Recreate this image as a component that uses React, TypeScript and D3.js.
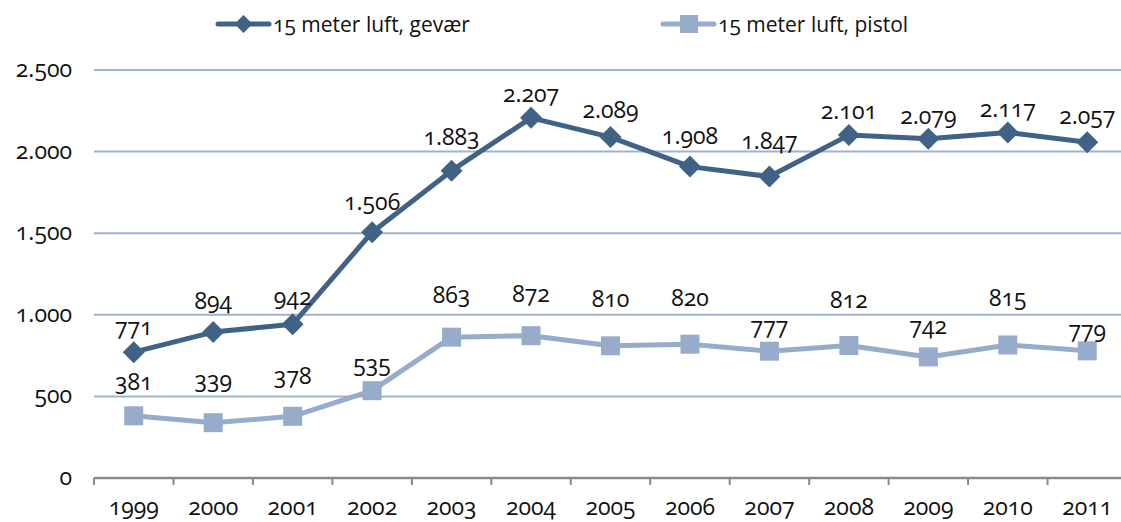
import React, { useEffect, useRef } from 'react';
import * as d3 from 'd3';

const years = ['1999', '2000', '2001', '2002', '2003', '2004', '2005', '2006', '2007', '2008', '2009', '2010', '2011'];
const gevaer = [771, 894, 942, 1506, 1883, 2207, 2089, 1908, 1847, 2101, 2079, 2117, 2057];
const pistol = [381, 339, 378, 535, 863, 872, 810, 820, 777, 812, 742, 815, 779];
const yTicks = [0, 500, 1000, 1500, 2000, 2500];
const seriesNames = ['15 meter luft, gevær', '15 meter luft, pistol'];

// manuelle forskydninger af datalabels (px over punktet)
const gevaerLabelDy = [17, 23, 19, 22, 26, 16, 19, 23, 28, 16, 15, 16, 18];
const pistolLabelDy = [26, 35, 32, 19, 34, 34, 39, 38, 17, 37, 23, 39, 13];

const FONT = '"Open Sans", "Noto Sans", sans-serif';
const DARK = '#3f6286';
const LIGHT = '#97acca';
const GRID = '#9fb2cd';

const App: React.FC = () => {
  const ref = useRef<SVGSVGElement | null>(null);

  useEffect(() => {
    if (!ref.current) return;
    const svg = d3.select(ref.current);
    svg.selectAll('*').remove();

    const width = 1121;
    const left = 94;
    const fmt = d3.formatLocale({ decimal: ',', thousands: '.', grouping: [3], currency: ['', ''] }).format(',d');

    const x = d3.scaleBand<string>().domain(years).range([left, 1127]);
    const cx = (d: string) => x(d)! + x.bandwidth() / 2;
    const y = d3.scaleLinear().domain([0, 2500]).range([478, 70]);

    const root = svg.append('g')
      .style('font-family', FONT)
      .style('font-variant-numeric', 'oldstyle-nums')
      .style('font-size', '23px')
      .attr('fill', '#111');

    // gitterlinjer
    root.append('g')
      .selectAll('line')
      .data(yTicks.filter((t) => t > 0))
      .enter()
      .append('line')
      .attr('x1', left)
      .attr('x2', width)
      .attr('y1', (d) => y(d))
      .attr('y2', (d) => y(d))
      .attr('stroke', GRID)
      .attr('stroke-width', 2);

    // y-akse labels
    root.append('g')
      .selectAll('text')
      .data(yTicks)
      .enter()
      .append('text')
      .attr('x', 72)
      .attr('y', (d) => y(d))
      .attr('dy', '0.3em')
      .attr('text-anchor', 'end')
      .text((d) => fmt(d));

    // x-akse
    const xAxis = d3.axisBottom(x).tickSize(0).tickFormat((d) => d);
    const ax = root.append('g').attr('transform', `translate(0,${y(0)})`).call(xAxis);
    ax.select('.domain').remove();
    ax.selectAll('text')
      .style('font-family', FONT)
      .style('font-size', '23px')
      .attr('fill', '#111')
      .attr('y', 37)
      .attr('dy', null);
    root.append('line')
      .attr('x1', left)
      .attr('x2', width)
      .attr('y1', y(0))
      .attr('y2', y(0))
      .attr('stroke', '#8a8a8a')
      .attr('stroke-width', 2.5);
    root.append('g')
      .selectAll('line')
      .data(years)
      .enter()
      .append('line')
      .attr('x1', (d) => x(d)!)
      .attr('x2', (d) => x(d)!)
      .attr('y1', y(0))
      .attr('y2', y(0) + 7)
      .attr('stroke', '#8a8a8a')
      .attr('stroke-width', 2);

    const line = d3.line<number>()
      .x((_, i) => cx(years[i]))
      .y((d) => y(d));

    const diamond = (s: number) => `M0,${-s}L${s},0L0,${s}L${-s},0Z`;

    // pistol
    root.append('path')
      .datum(pistol)
      .attr('fill', 'none')
      .attr('stroke', LIGHT)
      .attr('stroke-width', 5)
      .attr('stroke-linejoin', 'round')
      .attr('d', line);
    root.append('g')
      .selectAll('rect')
      .data(pistol)
      .enter()
      .append('rect')
      .attr('x', (_, i) => cx(years[i]) - 9.5)
      .attr('y', (d) => y(d) - 9.5)
      .attr('width', 19)
      .attr('height', 19)
      .attr('fill', LIGHT);

    // gevær
    root.append('path')
      .datum(gevaer)
      .attr('fill', 'none')
      .attr('stroke', DARK)
      .attr('stroke-width', 5)
      .attr('stroke-linejoin', 'round')
      .attr('d', line);
    root.append('g')
      .selectAll('path')
      .data(gevaer)
      .enter()
      .append('path')
      .attr('transform', (d, i) => `translate(${cx(years[i])},${y(d)})`)
      .attr('d', diamond(11))
      .attr('fill', DARK);

    // datalabels
    root.append('g')
      .selectAll('text')
      .data(gevaer)
      .enter()
      .append('text')
      .attr('x', (_, i) => cx(years[i]))
      .attr('y', (d, i) => y(d) - gevaerLabelDy[i])
      .attr('text-anchor', 'middle')
      .text((d) => fmt(d));
    root.append('g')
      .selectAll('text')
      .data(pistol)
      .enter()
      .append('text')
      .attr('x', (_, i) => cx(years[i]))
      .attr('y', (d, i) => y(d) - pistolLabelDy[i])
      .attr('text-anchor', 'middle')
      .text((d) => fmt(d));

    // legende
    const legend = [
      { name: seriesNames[0], color: DARK, x: 218, shape: 'diamond' },
      { name: seriesNames[1], color: LIGHT, x: 663, shape: 'square' },
    ];
    legend.forEach((l) => {
      const g = root.append('g').attr('transform', `translate(${l.x},24)`);
      g.append('line')
        .attr('x1', 0)
        .attr('x2', 51)
        .attr('stroke', l.color)
        .attr('stroke-width', 5)
        .attr('stroke-linecap', 'round');
      if (l.shape === 'diamond') {
        g.append('path').attr('d', diamond(9)).attr('transform', 'translate(25.5,0)').attr('fill', l.color);
      } else {
        g.append('rect').attr('x', 17).attr('y', -9).attr('width', 18).attr('height', 18).attr('fill', l.color);
      }
      g.append('text').attr('x', 55).attr('y', 8).style('font-size', '21px').text(l.name);
    });
  }, []);

  return (
    <svg
      ref={ref}
      width={1121}
      height={522}
      style={{ position: 'absolute', left: 0, top: 0, background: '#fff' }}
    />
  );
};

export default App;
